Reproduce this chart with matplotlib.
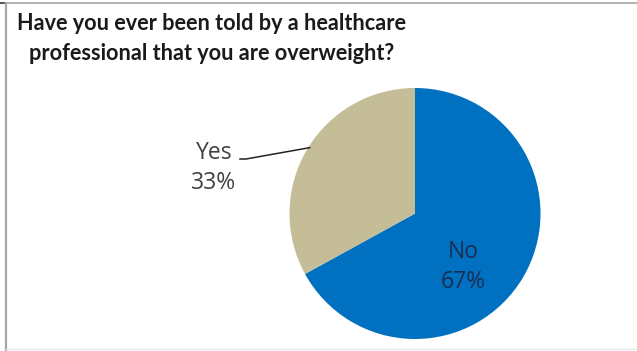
import matplotlib
matplotlib.use("Agg")
import matplotlib.pyplot as plt
import numpy as np

title = "Have you ever been told by a healthcare\nprofessional that you are overweight?"
categories = ["No", "Yes"]
shares = [67, 33]
colors = ["#0070C0", "#C4BD97"]

W, H = 637, 351
fig = plt.figure(figsize=(W / 100, H / 100), dpi=100)
ax = fig.add_axes([0, 0, 1, 1])

cx, cy, r = 415, H - 213.5, 125.5
wedges, _ = ax.pie(shares, colors=colors, startangle=90, counterclock=False,
                   center=(cx, cy), radius=r, frame=True,
                   wedgeprops=dict(linewidth=0))

ax.set_xlim(0, W)
ax.set_ylim(0, H)
ax.set_aspect("equal")
ax.axis("off")

# outer frame of the chart area
ax.plot([5.5, 5.5], [0, H - 2], color="#a6a6a6", lw=1.6, solid_capstyle="butt")
ax.plot([5.5, W], [H - 2.5, H - 2.5], color="#a6a6a6", lw=1.2)
ax.plot([0, 4], [H - 3, H - 3], color="#333333", lw=1.2)
ax.plot([6, W], [2.5, 2.5], color="#e6e6e6", lw=1.0)

ax.text(211.5, H - 13, title, ha="center", va="top", fontsize=15.6,
        fontweight="bold", family="Lato", color="#1a1a1a", linespacing=1.5)

# data labels
lab_font = dict(family="Open Sans", fontsize=16.5)
no_txt = f"{categories[0]}\n{shares[0]}%"
ax.text(463, H - 267, no_txt, ha="center", va="center", color="#1b2e52",
        linespacing=1.35, **lab_font)

yes_txt = f"{categories[1]}\n{shares[1]}%"
ax.text(214, H - 168, yes_txt, ha="center", va="center", color="#404040",
        linespacing=1.35, **lab_font)

# leader line from the "Yes" label to the slice edge
ang = np.deg2rad(148)
ex, ey = cx + r * np.cos(ang) * 0.99, cy + r * np.sin(ang) * 0.99
ax.plot([240, 246, ex], [H - 159, H - 159, ey], color="#222222", lw=1.1)

fig.savefig("out.png", dpi=100)
